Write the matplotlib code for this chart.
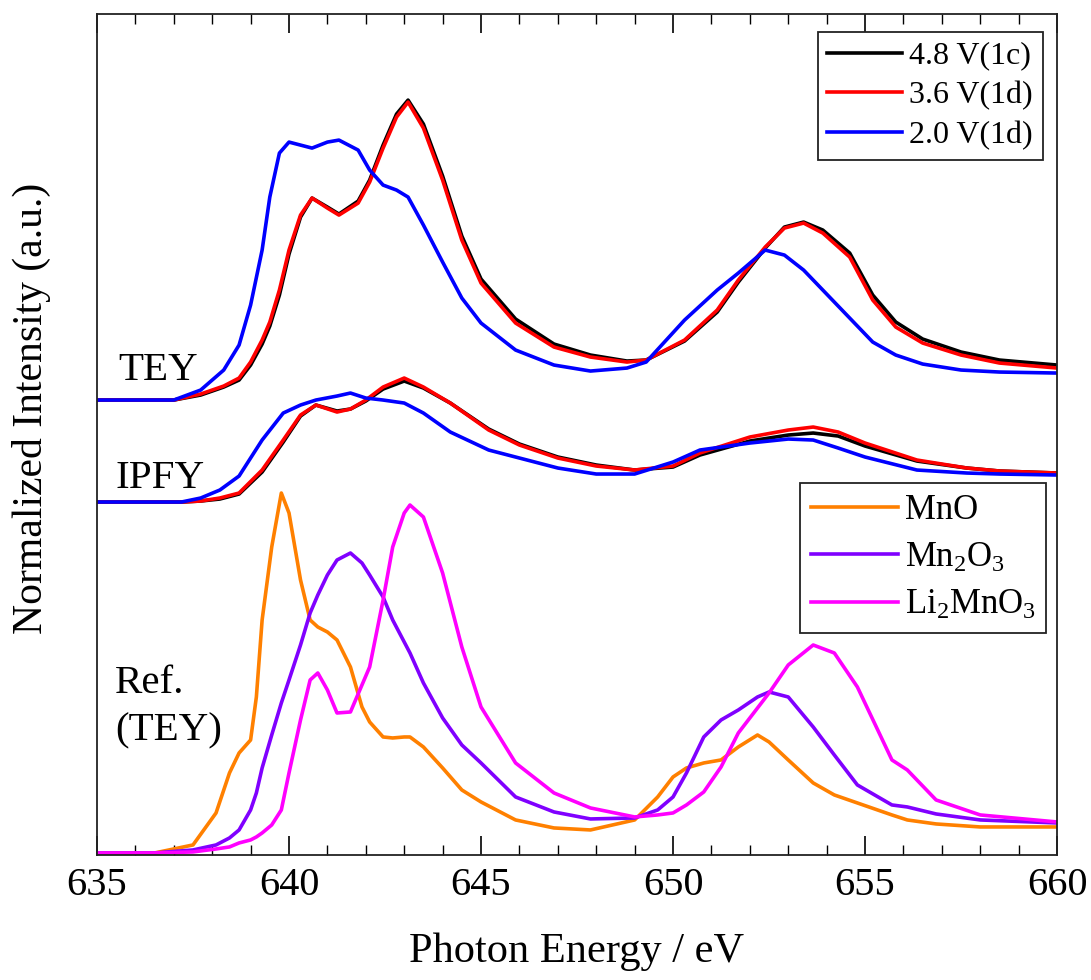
import matplotlib
matplotlib.use("Agg")
import matplotlib.pyplot as plt

plt.rcParams["font.family"] = ["Liberation Serif", "DejaVu Serif"]
plt.rcParams["mathtext.fontset"] = "custom"
plt.rcParams["mathtext.rm"] = "Liberation Serif"
plt.rcParams["mathtext.it"] = "Liberation Serif"

# --- TEY spectra (relative to their own baseline) ---
E_TEY = [635, 637, 637.7, 638.3, 638.7, 639.0, 639.3, 639.5, 639.75, 640.0,
         640.3, 640.6, 641.0, 641.3, 641.8, 642.1, 642.45, 642.8, 643.1, 643.5,
         644.0, 644.5, 645.0, 645.9, 646.9, 647.85, 648.8, 649.3, 650.3, 651.15,
         651.7, 652.4, 652.9, 653.4, 653.9, 654.6, 655.2, 655.8, 656.5, 657.5,
         658.5, 660]
TEY_48_1C = [0, 0, .05, .13, .20, .35, .56, .74, 1.05, 1.46,
             1.83, 2.02, 1.93, 1.86, 1.99, 2.20, 2.55, 2.86, 3.00, 2.76,
             2.24, 1.64, 1.21, .81, .56, .45, .39, .40, .59, .88,
             1.18, 1.52, 1.73, 1.78, 1.70, 1.47, 1.05, .78, .61, .48,
             .40, .35]
TEY_36_1D = [0, 0, .06, .14, .22, .38, .60, .78, 1.10, 1.50,
             1.85, 2.02, 1.92, 1.85, 1.97, 2.18, 2.52, 2.83, 2.98, 2.72,
             2.20, 1.60, 1.17, .77, .53, .43, .38, .40, .60, .90,
             1.20, 1.53, 1.72, 1.77, 1.67, 1.43, 1.00, .73, .57, .45,
             .37, .32]
TEY_20_1D = [0, 0, .10, .30, .55, .95, 1.50, 2.03, 2.47, 2.58,
             2.55, 2.52, 2.58, 2.60, 2.50, 2.30, 2.15, 2.10, 2.03, 1.75,
             1.38, 1.02, .77, .50, .35, .29, .32, .38, .80, 1.10,
             1.27, 1.50, 1.45, 1.30, 1.10, .82, .58, .45, .36, .30,
             .28, .27]

# --- IPFY spectra ---
E_IPFY = [635, 637.2, 637.7, 638.2, 638.7, 639.3, 639.85, 640.3, 640.7, 641.25,
          641.6, 642.0, 642.45, 643.0, 643.5, 644.2, 645.2, 646, 647, 648,
          649, 650, 650.7, 652, 653, 653.65, 654.3, 655, 656.35, 657.65,
          658.5, 660]
IPFY_48_1C = [0, 0, .01, .03, .08, .30, .60, .86, .97, .91,
              .93, 1.01, 1.13, 1.21, 1.14, .99, .73, .58, .45, .37,
              .32, .35, .47, .61, .67, .69, .66, .56, .41, .34,
              .31, .29]
IPFY_36_1D = [0, 0, .01, .04, .09, .32, .62, .87, .97, .90,
              .93, 1.02, 1.15, 1.24, 1.15, .99, .72, .57, .44, .36,
              .32, .36, .49, .65, .72, .75, .70, .59, .42, .34,
              .31, .29]
IPFY_20_1D = [0, 0, .04, .12, .26, .62, .89, .97, 1.02, 1.06,
              1.09, 1.04, 1.02, .99, .89, .70, .52, .44, .34, .28,
              .28, .40, .52, .59, .63, .62, .54, .45, .32, .29,
              .28, .27]

# --- Reference spectra (TEY) ---
E_REF = [635, 636.5, 637.5, 638.1, 638.45, 638.7, 639.0, 639.15, 639.3, 639.55,
         639.8, 640.0, 640.3, 640.55, 640.75, 641.0, 641.25, 641.6, 641.9, 642.1,
         642.45, 642.7, 643.0, 643.15, 643.5, 644.0, 644.5, 645.0, 645.9, 646.9,
         647.85, 649.0, 649.6, 650.0, 650.35, 650.8, 651.25, 651.7, 652.2, 652.5,
         653.0, 653.65, 654.2, 654.8, 655.7, 656.1, 656.85, 658.0, 660]
MNO = [0, 0, .08, .40, .80, 1.00, 1.13, 1.56, 2.33, 3.06,
       3.60, 3.40, 2.73, 2.33, 2.26, 2.21, 2.13, 1.86, 1.46, 1.31,
       1.16, 1.15, 1.16, 1.16, 1.06, .85, .63, .51, .33, .25,
       .23, .33, .56, .76, .85, .90, .93, 1.06, 1.18, 1.11,
       .93, .70, .58, .50, .38, .33, .29, .26, .26]
MN2O3 = [0, 0, .03, .08, .15, .23, .43, .60, .85, 1.18,
         1.50, 1.73, 2.08, 2.40, 2.58, 2.78, 2.93, 3.00, 2.90, 2.78,
         2.56, 2.33, 2.11, 2.00, 1.70, 1.35, 1.08, .90, .56, .41,
         .34, .35, .43, .56, .80, 1.16, 1.33, 1.43, 1.56, 1.61,
         1.56, 1.26, .98, .68, .48, .46, .39, .33, .30]
LI2MNO3 = [0, 0, .01, .04, .06, .10, .13, .16, .20, .28,
           .43, .80, 1.33, 1.73, 1.80, 1.63, 1.40, 1.41, 1.68, 1.86,
           2.53, 3.06, 3.40, 3.48, 3.36, 2.80, 2.06, 1.46, .90, .60,
           .45, .36, .38, .40, .48, .61, .86, 1.20, 1.45, 1.60,
           1.88, 2.08, 2.00, 1.66, .93, .83, .53, .38, .31]

OFFSET_TEY = 4.53
OFFSET_IPFY = 3.51

SAMPLE_LABELS = ["4.8 V(1c)", "3.6 V(1d)", "2.0 V(1d)"]
SAMPLE_COLORS = ["black", "#ff0000", "#0000ff"]
REF_LABELS = ["MnO", "Mn$_2$O$_3$", "Li$_2$MnO$_3$"]
REF_COLORS = ["#ff8000", "#8000ff", "#ff00ff"]


def main():
    fig = plt.figure(figsize=(10.91, 9.8), dpi=100)
    ax = fig.add_axes([0.0889, 0.1276, 0.880, 0.858])
    lw = 2.6

    sample_lines = []
    for tey, ipfy, label, color in zip(
        [TEY_48_1C, TEY_36_1D, TEY_20_1D],
        [IPFY_48_1C, IPFY_36_1D, IPFY_20_1D],
        SAMPLE_LABELS,
        SAMPLE_COLORS,
    ):
        (line,) = ax.plot(E_TEY, [v + OFFSET_TEY for v in tey], color=color, lw=lw, label=label)
        ax.plot(E_IPFY, [v + OFFSET_IPFY for v in ipfy], color=color, lw=lw)
        sample_lines.append(line)

    ref_lines = []
    for ref, label, color in zip([MNO, MN2O3, LI2MNO3], REF_LABELS, REF_COLORS):
        (line,) = ax.plot(E_REF, ref, color=color, lw=lw, label=label)
        ref_lines.append(line)

    ax.text(635.55, 4.73, "TEY", fontsize=29.5, ha="left", va="baseline")
    ax.text(635.47, 3.65, "IPFY", fontsize=29.5, ha="left", va="baseline")
    ax.text(635.47, 1.60, "Ref.", fontsize=29.5, ha="left", va="baseline")
    ax.text(635.47, 1.13, "(TEY)", fontsize=29.5, ha="left", va="baseline")

    leg1 = ax.legend(handles=sample_lines, loc="upper right",
                     bbox_to_anchor=(0.985, 0.979), borderaxespad=0,
                     fontsize=23, fancybox=False, edgecolor="#222222",
                     framealpha=1, handlelength=2.35, labelspacing=0.33,
                     handletextpad=0.22, borderpad=0.3)
    leg1.get_frame().set_linewidth(1.3)
    ax.add_artist(leg1)
    leg2 = ax.legend(handles=ref_lines, loc="upper right",
                     bbox_to_anchor=(0.9885, 0.442), borderaxespad=0,
                     fontsize=25, fancybox=False, edgecolor="#222222",
                     framealpha=1, handlelength=2.5, labelspacing=0.42,
                     handletextpad=0.2, borderpad=0.3)
    leg2.get_frame().set_linewidth(1.3)

    ax.set_xlim(635, 660)
    ax.set_ylim(-0.02, 8.39)
    ax.set_xticks(range(635, 661, 5))
    ax.set_xticks(range(635, 661), minor=True)
    ax.set_yticks([])
    ax.tick_params(axis="x", which="both", direction="in", top=True,
                   labelsize=29, pad=9)
    ax.tick_params(axis="x", which="major", length=14, width=1.2)
    ax.tick_params(axis="x", which="minor", length=7, width=1.0)
    for spine in ax.spines.values():
        spine.set_linewidth(1.3)
        spine.set_color("#222222")

    ax.set_xlabel("Photon Energy / eV", fontsize=30.5, labelpad=20)
    ax.set_ylabel("Normalized Intensity (a.u.)", fontsize=30)
    ax.yaxis.set_label_coords(-0.048, 0.531)

    fig.savefig("out.png", dpi=100)


if __name__ == "__main__":
    main()
